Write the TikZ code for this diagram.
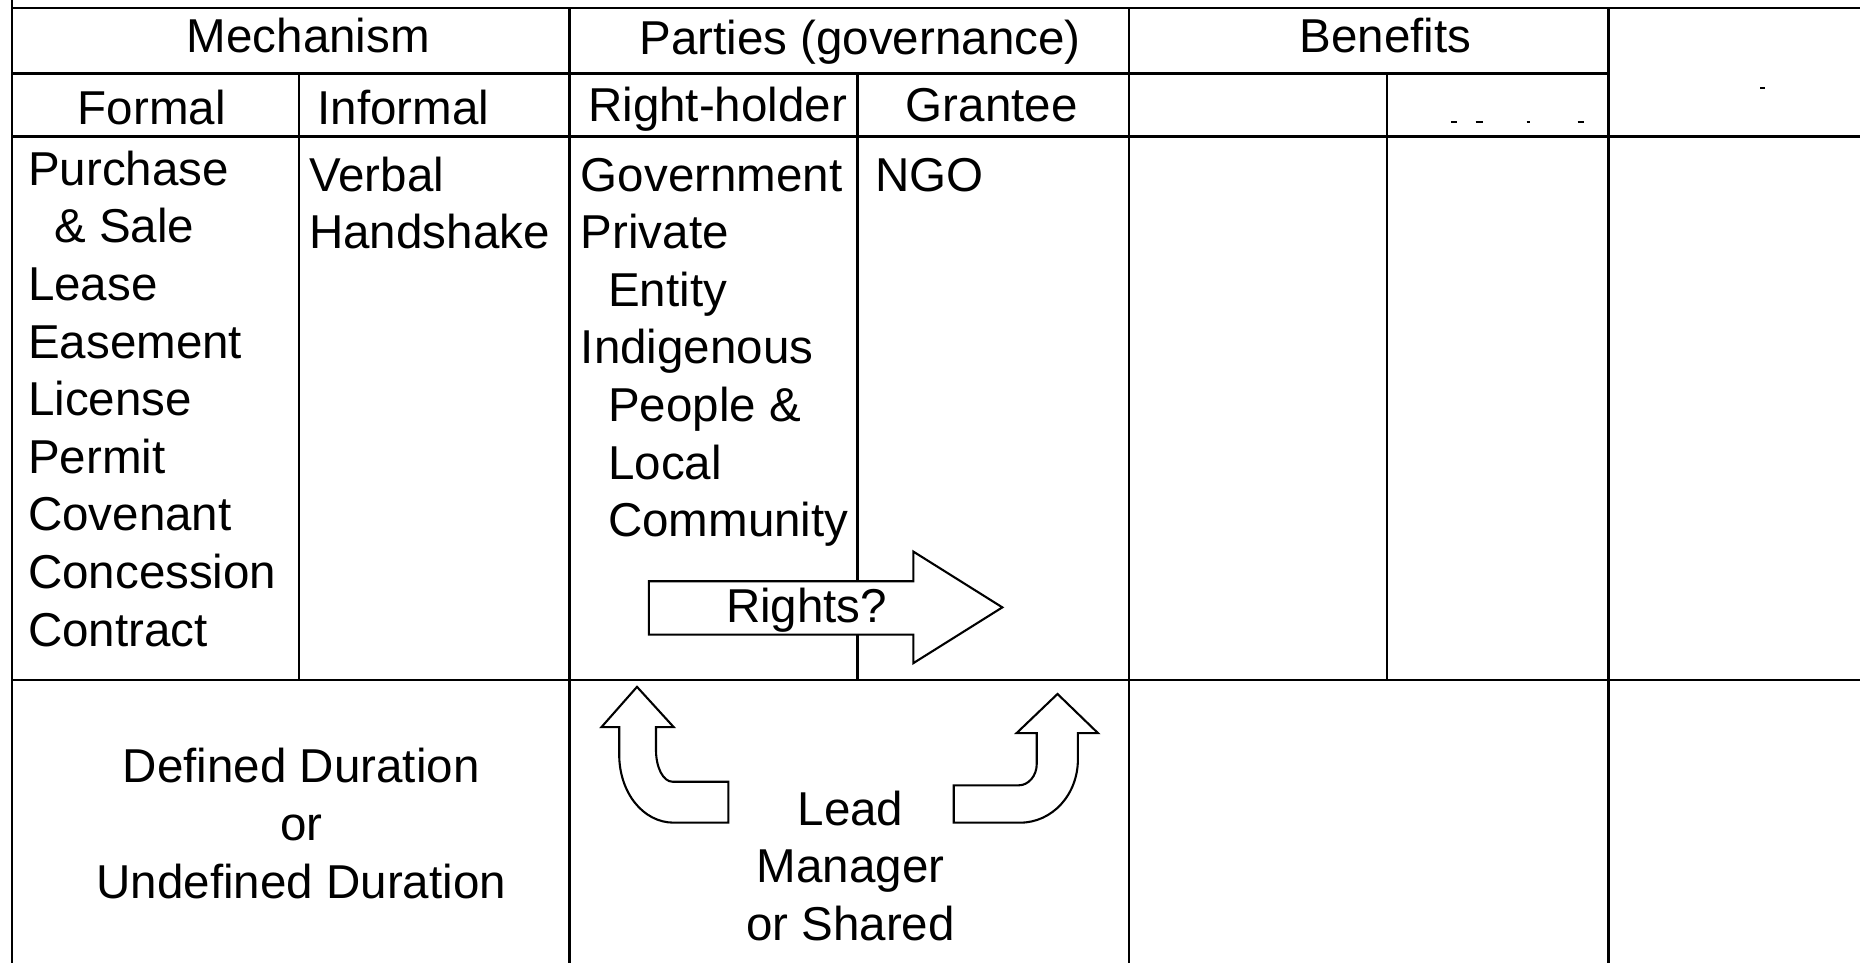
\documentclass[tikz,border=0pt]{standalone}
\usepackage{fontspec}
\setmainfont{Liberation Sans}

\begin{document}
\begin{tikzpicture}[x=0.1mm,y=-0.1mm,
  grid/.style={line width=0.55pt},
  cell/.style={font=\fontsize{11.4}{13.8}\selectfont, inner sep=0pt, anchor=base},
  item/.style={cell, anchor=base west},
  blockarrow/.style={draw, fill=white, line width=0.5pt, line join=miter},
  speck/.style={line width=0.4pt}]
\useasboundingbox (0,0) rectangle (1568,812);
% Table rules
\draw[grid] (10,0) -- (10,812);
\draw[grid] (10,7) -- (1568,7);
\draw[grid] (10,62) -- (1356,62);
\draw[grid] (10,115) -- (1568,115);
\draw[grid] (10,573) -- (1568,573);
\foreach \x in {480,952,1356} \draw[grid] (\x,7) -- (\x,812);
\foreach \x in {252,723,1169} \draw[grid] (\x,62) -- (\x,573);
% Header rows
\node[cell] (mech) at (260,44) {Mechanism};
\node[cell] (parties) at (725,46) {Parties (governance)};
\node[cell] (benefits) at (1168,44) {Benefits};
\node[cell] (formal) at (128,105) {Formal};
\node[cell] (informal) at (340,105) {Informal};
\node[cell] (holder) at (605,102) {Right-holder};
\node[cell] (grantee) at (836,102) {Grantee};
% Remnants of hidden text
\draw[speck] (1223,103) -- (1228,103);
\draw[speck] (1244,103) -- (1250,103);
\draw[speck] (1287,103) -- (1290,103);
\draw[speck] (1330,103) -- (1335,103);
\draw[speck] (1484,74) -- (1488,74);
% Mechanism lists
\foreach \x/\t [count=\i] in {23/Purchase, 45/{\& Sale}, 23/Lease, 23/Easement,
    23/License, 23/Permit, 23/Covenant, 23/Concession, 23/Contract}
  \node[item] (formal\i) at (\x,{156+(\i-1)*48.6}) {\t};
\node[item] (verbal) at (260,161) {Verbal};
\node[item] (handshake) at (260,209.6) {Handshake};
% Parties lists
\foreach \x/\t [count=\i] in {489/Government, 489/Private, 512/Entity, 489/Indigenous,
    512/{People \&}, 512/Local, 512/Community}
  \node[item] (holder\i) at (\x,{161+(\i-1)*48.6}) {\t};
\node[item] (ngo) at (737,161) {NGO};
% Rights arrow
\draw[blockarrow] (547,490) -- (770,490) -- (770,465) -- (845,512)
  -- (770,559) -- (770,535) -- (547,535) -- cycle;
\node[cell] (rights) at (680,525) {Rights?};
% Curved arrows
\draw[blockarrow] (537,579) -- (568,613) -- (553,613) -- (553,632)
  .. controls (553,647) and (559,659) .. (567,659) -- (614,659) -- (614,693.5)
  -- (568,693.5) .. controls (542,693.5) and (522,668) .. (522,636)
  -- (522,613) -- (507,613) -- cycle;
\draw[blockarrow] (891.5,585) -- (925.6,618) -- (908.7,618) -- (908.7,640)
  .. controls (908.7,670) and (887,693.5) .. (860,693.5) -- (804,693.5)
  -- (804,662) -- (859,662) .. controls (867,662) and (874,654) .. (874,644)
  -- (874,618) -- (857,618) -- cycle;
% Bottom row
\node[cell] (defined) at (254,660) {Defined Duration};
\node[cell] (or) at (254,708.6) {or};
\node[cell] (undefined) at (254,757.2) {Undefined Duration};
\node[cell] (lead) at (717,695.6) {Lead};
\node[cell] (manager) at (717,744.2) {Manager};
\node[cell] (shared) at (717,792.8) {or Shared};
\end{tikzpicture}
\end{document}
